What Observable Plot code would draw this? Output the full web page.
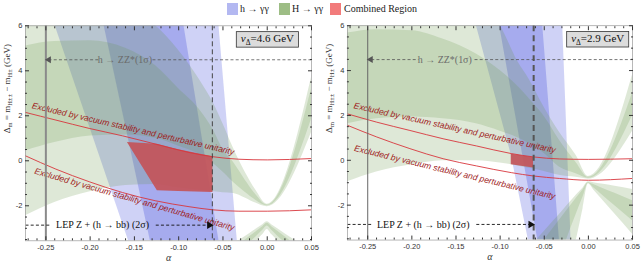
<!DOCTYPE html>
<html><head><meta charset="utf-8">
<script src="https://cdn.jsdelivr.net/npm/d3@7"></script>
<script src="https://cdn.jsdelivr.net/npm/@observablehq/plot@0.6"></script>
<style>
body{margin:0;background:#fff;}
#wrap{position:relative;width:642px;height:269px;overflow:hidden;font-family:"Liberation Serif",serif;}
.panel{position:absolute;top:0;}
.sw{position:absolute;top:3px;width:11px;height:12px;}
.lt{position:absolute;top:2px;font-size:10px;line-height:13px;color:#222;white-space:nowrap;}
</style></head><body>
<div id="wrap">
  <div id="p0" class="panel" style="left:0"></div>
  <div id="p1" class="panel" style="left:322px"></div>
  <div id="legend"></div>
</div>
<script>
// ---------- shared axes ----------
const xDomain = [-0.273, 0.05];
const yDomain = [-3.556, 6];
const xMajor = [-0.25, -0.20, -0.15, -0.10, -0.05, 0.00, 0.05];
const xMinor = [-0.27,-0.26,-0.24,-0.23,-0.22,-0.21,-0.19,-0.18,-0.17,-0.16,-0.14,-0.13,-0.12,-0.11,-0.09,-0.08,-0.07,-0.06,-0.04,-0.03,-0.02,-0.01,0.01,0.02,0.03,0.04];
const yMajor = [-2, 0, 2, 4, 6];
const yMinor = [-3.5,-3,-2.5,-1.5,-1,-0.5,0.5,1,1.5,2.5,3,3.5,4.5,5,5.5];
const yLabel = "Δm = mH±± − mH± (GeV)";
const xLabel = "α";
const legendNames = ["h → γγ", "H → γγ", "Combined Region"];
const legendColors = ["#b3b8f1", "#9dbd85", "#f27b7b"];
const excludedText = "Excluded by vacuum stability and perturbative unitarity";
const zzText = "h → ZZ*(1σ)";
const lepText = "LEP Z + (h → bb) (2σ)";

// ---------- panel 1 : vΔ = 4.6 GeV ----------
const p1_vLabel = "vΔ=4.6 GeV";
const p1_vPos = [0.0002, 5.43];
const p1_alphaUp = [-0.273, -0.24, -0.2, -0.16, -0.126, -0.1, -0.077, -0.06, -0.05, -0.038, -0.025, -0.013, 0, 0.05];
const p1_up2Hi = [7.5, 7.5, 7.3, 6.7, 6.0, 4.9, 3.63, 2.5, 1.65, 0.55, -0.5, -1.3, -1.93, 3.7];
const p1_up1Hi = [5.1, 5.3, 5.33, 5.0, 4.22, 3.2, 2.3, 1.3, 0.5, -0.08, -0.85, -1.5, -1.97, 3.19];
const p1_up1Lo = [0.44, 0.81, 1.1, 1.15, 1.0, 0.65, 0.3, -0.15, -0.5, -0.97, -1.4, -1.75, -2.0, 1.85];
const p1_up2Lo = [-2.44, -1.85, -1.38, -1.1, -1.05, -1.2, -1.3, -1.38, -1.42, -1.45, -1.65, -1.88, -2.04, 1.26];
const p1_alphaLow = [-0.045, -0.032, -0.02, -0.011, -0.005, 0, 0.005, 0.011, 0.02, 0.032, 0.045];
const p1_low2Hi = [-3.9, -3.556, -3.24, -3.0, -2.84, -2.71, -2.84, -3.0, -3.24, -3.556, -3.9];
const p1_low1Hi = [-4.1, -3.74, -3.38, -3.11, -2.93, -2.78, -2.93, -3.11, -3.38, -3.74, -4.1];
const p1_low1Lo = [-4.5, -4.5, -3.67, -3.32, -3.09, -2.9, -3.09, -3.32, -3.67, -4.5, -4.5];
const p1_low2Lo = [-4.6, -4.6, -4.6, -3.556, -3.28, -3.05, -3.28, -3.556, -4.6, -4.6, -4.6];
const p1_blueY = [6, -3.556];
const p1_blue2L = [-0.2395, -0.1566];
const p1_blue1L = [-0.1842, -0.132];
const p1_blue1R = [-0.094, -0.0545];
const p1_blue2R = [-0.0545, -0.0338];
const p1_alphaRed = [-0.273, -0.2387, -0.2011, -0.1635, -0.1259, -0.0883, -0.0613, -0.032, 0, 0.05];
const p1_redUp = [2.15, 1.81, 1.44, 1.11, 0.74, 0.37, 0.18, 0.07, 0.04, 0.10];
const p1_redLo = [0.22, -0.37, -0.93, -1.41, -1.78, -2.04, -2.18, -2.24, -2.24, -2.18];
const p1_alphaComb = [-0.1579, -0.1241, -0.1, -0.0613];
const p1_combLo = [0.815, -1.333, -1.37, -1.407];
const p1_combHi = [0.815, 0.73, 0.49, 0.178];
const p1_exclAlpha = [-0.1515, -0.150];
const p1_exclY = [1.42, -1.72];
const p1_exclRot = [13, 16];
const p1_zzPos = [-0.1607, 4.49];
const p1_zzSegA = [[-0.247, -0.1905], [-0.1296, 0.05]];
const p1_lepPos = [-0.186, -2.86];
const p1_lepSegA = [[-0.273, -0.2444], [-0.1259, -0.066]];
const p1_style = {zzWidth: 2, zzColor: "#8a8a8a", lepWidth: 1, lepColor: "#444", lepDash: "5,3"};

// ---------- panel 2 : vΔ = 2.9 GeV ----------
const p2_vLabel = "vΔ=2.9 GeV";
const p2_vPos = [0.0105, 5.43];
const p2_alphaUp = [-0.273, -0.24, -0.2, -0.165, -0.127, -0.1, -0.08, -0.067, -0.05, -0.033, -0.014, 0, 0.05];
const p2_up2Hi = [7.5, 7.5, 7.5, 7.3, 6.8, 6.0, 4.4, 3.6, 2.35, 1.26, 0.22, -0.72, 3.8];
const p2_up1Hi = [5.67, 5.82, 5.78, 5.41, 4.74, 4.0, 3.3, 2.74, 1.95, 0.9, -0.1, -0.76, 3.0];
const p2_up1Lo = [1.63, 1.85, 1.93, 1.85, 1.63, 1.3, 1.0, 0.75, 0.3, -0.3, -0.6, -0.80, 2.0];
const p2_up2Lo = [-0.96, -0.52, -0.2, -0.02, -0.02, -0.12, -0.25, -0.36, -0.5, -0.67, -0.76, -0.84, 1.3];
const p2_alphaLow = [-0.075, -0.06, -0.05, -0.04, -0.03, -0.02, -0.013, -0.006, 0, 0.006, 0.015, 0.03, 0.05];
const p2_low2Hi = [-4.28, -3.61, -3.17, -2.73, -2.29, -1.84, -1.53, -1.23, -0.96, -1.0, -1.06, -1.16, -1.30];
const p2_low1Hi = [-4.8, -4.06, -3.55, -3.04, -2.53, -2.02, -1.66, -1.31, -1.0, -1.08, -1.23, -1.47, -1.8];
const p2_low1Lo = [-5.0, -4.6, -4.6, -4.6, -4.05, -3.04, -2.33, -1.63, -1.02, -1.22, -1.52, -2.03, -2.7];
const p2_low2Lo = [-4.6, -4.6, -4.6, -4.6, -4.6, -4.5, -3.44, -2.15, -1.05, -1.32, -1.73, -2.40, -3.30];
const p2_blueY = [6, 0.25, -3.556];
const p2_blue2L = [-0.1269, -0.0874, -0.068];
const p2_blue1L = [-0.1006, -0.0745, -0.0573];
const p2_blue1R = [-0.0517, -0.0403, -0.0328];
const p2_blue2R = [-0.0291, -0.0234, -0.0197];
const p2_alphaRed = [-0.273, -0.2398, -0.2022, -0.1646, -0.1269, -0.0874, -0.0622, -0.0328, 0, 0.05];
const p2_redUp = [2.07, 1.70, 1.33, 0.96, 0.64, 0.30, 0.15, 0.06, 0.04, 0.07];
const p2_redLo = [1.56, 1.04, 0.52, 0.07, -0.25, -0.55, -0.70, -0.81, -0.89, -0.81];
const p2_alphaComb = [-0.0874, -0.0622];
const p2_combLo = [-0.20, -0.34];
const p2_combHi = [0.27, 0.13];
const p2_exclAlpha = [-0.1514, -0.1514];
const p2_exclY = [1.44, -0.54];
const p2_exclRot = [12.5, 13.6];
const p2_zzPos = [-0.1627, 4.49];
const p2_zzSegA = [[-0.246, -0.1925], [-0.129, 0.05]];
const p2_lepPos = [-0.1871, -2.86];
const p2_lepSegA = [[-0.273, -0.2455], [-0.127, -0.0667]];
const p2_style = {zzWidth: 1, zzColor: "#666", lepWidth: 2, lepColor: "#555", lepDash: "6,4"};

const zzLineY = 4.49, lepLineY = -2.86, zzAlpha = -0.25, lepAlpha = -0.062;

const G = "#68984a", B = "#5a64e0";
const sans = "'Liberation Sans', Arial, sans-serif";

function makePanel(P) {
  const up = P.alphaUp.map((a, i) => ({a, u2: P.up2Hi[i], u1: P.up1Hi[i], l1: P.up1Lo[i], l2: P.up2Lo[i]}));
  const low = P.alphaLow.map((a, i) => ({a, h2: P.low2Hi[i], h1: P.low1Hi[i], l1: P.low1Lo[i], l2: P.low2Lo[i]}));
  const blue = P.blueY.map((y, i) => ({y, l2: P.blue2L[i], l1: P.blue1L[i], r1: P.blue1R[i], r2: P.blue2R[i]}));
  const vs = P.alphaRed.map((a, i) => ({a, up: P.redUp[i], lo: P.redLo[i]}));
  const comb = P.alphaComb.map((a, i) => ({a, lo: P.combLo[i], hi: P.combHi[i]}));
  const excl = P.exclAlpha.map((a, i) => ({a, y: P.exclY[i], r: P.exclRot[i]}));
  const zzSeg = P.zzSegA.map(([a1, a2]) => ({a1, a2, y: zzLineY}));
  const lepSeg = P.lepSegA.map(([a1, a2]) => ({a1, a2, y: lepLineY}));
  const S = P.style;
  const noText = () => "";
  return Plot.plot({
    width: 321, height: 269,
    marginTop: 25.3, marginBottom: 28.7, marginLeft: 25, marginRight: 10,
    style: {fontFamily: "'Liberation Serif', serif", background: "transparent", overflow: "visible"},
    x: {domain: xDomain}, y: {domain: yDomain},
    marks: [
      Plot.areaX(blue, {y: "y", x1: "l2", x2: "r2", fill: B, fillOpacity: 0.29, clip: true}),
      Plot.areaX(blue, {y: "y", x1: "l1", x2: "r1", fill: B, fillOpacity: 0.35, clip: true}),
      Plot.areaY(up, {x: "a", y1: "l2", y2: "u2", fill: G, fillOpacity: 0.22, curve: "monotone-x", clip: true}),
      Plot.areaY(up, {x: "a", y1: "l1", y2: "u1", fill: G, fillOpacity: 0.21, curve: "monotone-x", clip: true}),
      Plot.areaY(low, {x: "a", y1: "l2", y2: "h2", fill: G, fillOpacity: 0.22, curve: "monotone-x", clip: true}),
      Plot.areaY(low, {x: "a", y1: "l1", y2: "h1", fill: G, fillOpacity: 0.21, curve: "monotone-x", clip: true}),
      Plot.areaY(comb, {x: "a", y1: "lo", y2: "hi", fill: "#c35459", fillOpacity: 0.92}),
      Plot.line(vs, {x: "a", y: "up", stroke: "#d8363c", strokeWidth: 0.9, curve: "monotone-x", clip: true}),
      Plot.line(vs, {x: "a", y: "lo", stroke: "#d8363c", strokeWidth: 0.9, curve: "monotone-x", clip: true}),
      Plot.text(excl, {x: "a", y: "y", rotate: "r", text: () => excludedText, fill: "#a01b1b",
        fontStyle: "italic", fontFamily: sans, fontSize: 8.6}),
      Plot.ruleX([zzAlpha], {stroke: S.zzColor, strokeWidth: S.zzWidth}),
      Plot.ruleX([lepAlpha], {stroke: S.lepColor, strokeWidth: S.lepWidth, strokeDasharray: S.lepDash}),
      Plot.link(zzSeg, {x1: "a1", x2: "a2", y1: "y", y2: "y", stroke: "#555", strokeWidth: 0.8, strokeDasharray: "3,2.2", clip: true}),
      Plot.link(lepSeg, {x1: "a1", x2: "a2", y1: "y", y2: "y", stroke: "#111", strokeWidth: 0.9, strokeDasharray: "3,2.2", clip: true}),
      Plot.dot([zzAlpha], {x: d => d, y: () => zzLineY, symbol: "triangle", r: 2.6, fill: "#555", stroke: null, rotate: -90, dx: 3}),
      Plot.dot([lepAlpha], {x: d => d, y: () => lepLineY, symbol: "triangle", r: 2.8, fill: "#111", stroke: null, rotate: 90, dx: -3}),
      Plot.text([P.zzPos], {x: d => d[0], y: d => d[1], text: () => zzText, fill: "#6a6a6a", fontSize: 10}),
      Plot.text([P.lepPos], {x: d => d[0], y: d => d[1], text: () => lepText, fill: "#111", fontSize: 10}),
      Plot.text([P.vPos], {x: d => d[0], y: d => d[1], text: () => P.vLabel, fill: "#111", fontSize: 11}),
      Plot.frame({stroke: "#9a9a9a", strokeWidth: 0.7}),
      Plot.axisX(xMajor, {anchor: "bottom", tickSize: 0, tickPadding: 3.5, tickFormat: d => d.toFixed(2), fontFamily: sans, fontSize: 7.5, fill: "#333", label: null}),
      Plot.axisX(xMajor, {anchor: "bottom", tickSize: -4, tickFormat: noText, stroke: "#333", label: null}),
      Plot.axisX(xMajor, {anchor: "top", tickSize: -4, tickFormat: noText, stroke: "#333", label: null}),
      Plot.axisX(xMinor, {anchor: "bottom", tickSize: -2, tickFormat: noText, stroke: "#333", label: null}),
      Plot.axisX(xMinor, {anchor: "top", tickSize: -2, tickFormat: noText, stroke: "#333", label: null}),
      Plot.axisY(yMajor, {anchor: "left", tickSize: 0, tickPadding: 3, tickFormat: d => String(d), fontFamily: sans, fontSize: 7.5, fill: "#333", label: null}),
      Plot.axisY(yMajor, {anchor: "left", tickSize: -4, tickFormat: noText, stroke: "#333", label: null}),
      Plot.axisY(yMajor, {anchor: "right", tickSize: -4, tickFormat: noText, stroke: "#333", label: null}),
      Plot.axisY(yMinor, {anchor: "left", tickSize: -2, tickFormat: noText, stroke: "#333", label: null}),
      Plot.axisY(yMinor, {anchor: "right", tickSize: -2, tickFormat: noText, stroke: "#333", label: null}),
      Plot.text([yLabel], {frameAnchor: "left", rotate: -90, dx: -18, text: d => d, fill: "#333", fontSize: 9}),
      Plot.text([xLabel], {frameAnchor: "bottom", dy: 20.5, text: d => d, fill: "#333", fontSize: 10, fontStyle: "italic"})
    ]
  });
}

const ns = "http://www.w3.org/2000/svg";
function tspan(t, txt, attrs) {
  const s = document.createElementNS(ns, "tspan");
  s.textContent = txt;
  for (const k in attrs) s.setAttribute(k, attrs[k]);
  t.appendChild(s);
}
function decorate(svg) {
  svg.querySelectorAll("text").forEach(t => {
    const s = t.textContent;
    if (s.startsWith("vΔ")) {
      t.textContent = "";
      tspan(t, "v", {"font-style": "italic"});
      tspan(t, "Δ", {"font-size": "7.5", "dy": "2.5"});
      tspan(t, s.slice(2), {"dy": "-2.5"});
      const bb = t.getBBox();
      const r = document.createElementNS(ns, "rect");
      r.setAttribute("x", bb.x - 4.5);
      r.setAttribute("y", bb.y - 0.5);
      r.setAttribute("width", bb.width + 9);
      r.setAttribute("height", bb.height + 1);
      r.setAttribute("fill", "#dcdcdc");
      r.setAttribute("stroke", "#333");
      r.setAttribute("stroke-width", "0.8");
      if (t.getAttribute("transform")) r.setAttribute("transform", t.getAttribute("transform"));
      t.parentNode.insertBefore(r, t);
    } else if (s === yLabel) {
      t.textContent = "";
      tspan(t, "Δ", {});
      tspan(t, "m", {"font-size": "6.5", "dy": "2"});
      tspan(t, " = m", {"dy": "-2"});
      tspan(t, "H±±", {"font-size": "6.5", "dy": "2"});
      tspan(t, " − m", {"dy": "-2"});
      tspan(t, "H±", {"font-size": "6.5", "dy": "2"});
      tspan(t, " (GeV)", {"dy": "-2"});
    }
  });
}

const panels = [
  {vLabel: p1_vLabel, vPos: p1_vPos, alphaUp: p1_alphaUp, up2Hi: p1_up2Hi, up1Hi: p1_up1Hi, up1Lo: p1_up1Lo, up2Lo: p1_up2Lo,
   alphaLow: p1_alphaLow, low2Hi: p1_low2Hi, low1Hi: p1_low1Hi, low1Lo: p1_low1Lo, low2Lo: p1_low2Lo,
   blueY: p1_blueY, blue2L: p1_blue2L, blue1L: p1_blue1L, blue1R: p1_blue1R, blue2R: p1_blue2R,
   alphaRed: p1_alphaRed, redUp: p1_redUp, redLo: p1_redLo, alphaComb: p1_alphaComb, combLo: p1_combLo, combHi: p1_combHi,
   exclAlpha: p1_exclAlpha, exclY: p1_exclY, exclRot: p1_exclRot, zzPos: p1_zzPos, zzSegA: p1_zzSegA,
   lepPos: p1_lepPos, lepSegA: p1_lepSegA, style: p1_style},
  {vLabel: p2_vLabel, vPos: p2_vPos, alphaUp: p2_alphaUp, up2Hi: p2_up2Hi, up1Hi: p2_up1Hi, up1Lo: p2_up1Lo, up2Lo: p2_up2Lo,
   alphaLow: p2_alphaLow, low2Hi: p2_low2Hi, low1Hi: p2_low1Hi, low1Lo: p2_low1Lo, low2Lo: p2_low2Lo,
   blueY: p2_blueY, blue2L: p2_blue2L, blue1L: p2_blue1L, blue1R: p2_blue1R, blue2R: p2_blue2R,
   alphaRed: p2_alphaRed, redUp: p2_redUp, redLo: p2_redLo, alphaComb: p2_alphaComb, combLo: p2_combLo, combHi: p2_combHi,
   exclAlpha: p2_exclAlpha, exclY: p2_exclY, exclRot: p2_exclRot, zzPos: p2_zzPos, zzSegA: p2_zzSegA,
   lepPos: p2_lepPos, lepSegA: p2_lepSegA, style: p2_style}
];
panels.forEach((P, i) => {
  const svg = makePanel(P);
  document.getElementById("p" + i).appendChild(svg);
  decorate(svg);
});

// legend
const legendSwatchX = [227, 279, 330];
const legendTextX = [240, 292, 344];
const lg = document.getElementById("legend");
legendNames.forEach((name, i) => {
  const sw = document.createElement("div");
  sw.className = "sw"; sw.style.left = legendSwatchX[i] + "px"; sw.style.background = legendColors[i];
  const tx = document.createElement("div");
  tx.className = "lt"; tx.style.left = legendTextX[i] + "px"; tx.textContent = name;
  lg.appendChild(sw); lg.appendChild(tx);
});
</script>
</body></html>
